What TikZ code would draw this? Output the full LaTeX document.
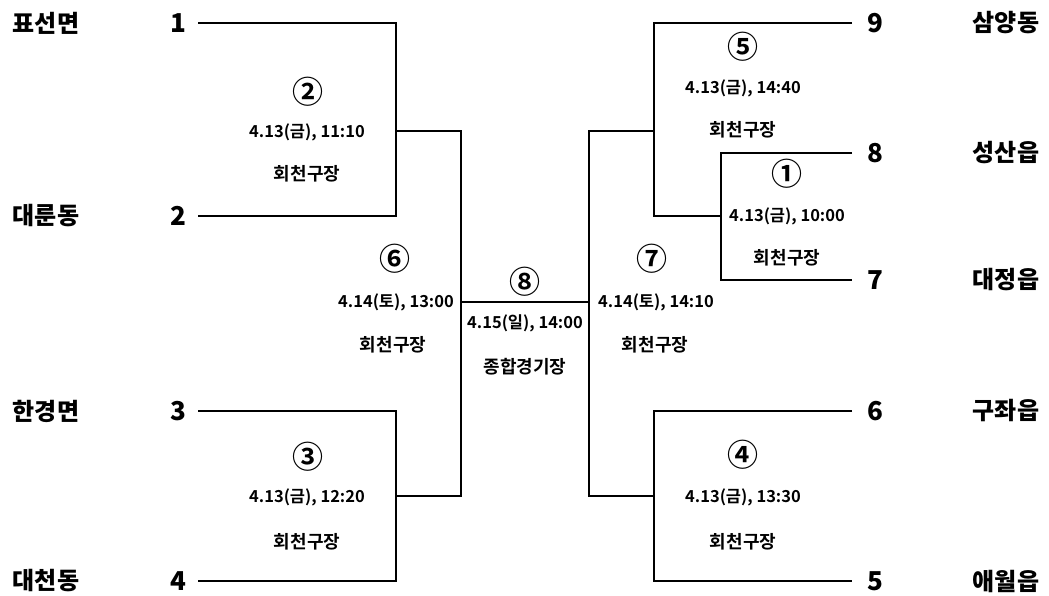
\documentclass[tikz,border=0pt]{standalone}
\usepackage{fontspec}
\setmainfont{Noto Sans CJK KR}
\newfontfamily\heavyfont{Noto Sans CJK KR Black}
\newfontfamily\boldkr{Noto Sans CJK KR Bold}
\begin{document}
\begin{tikzpicture}[x=1pt,y=-1pt,
  bline/.style={line width=2pt,line join=miter},
  team/.style={font=\heavyfont\fontsize{24}{24}\selectfont,inner sep=0pt,anchor=center},
  seed/.style={font=\heavyfont\fontsize{26}{26}\selectfont,inner sep=0pt,anchor=center},
  gno/.style={font=\boldkr\fontsize{31}{31}\selectfont,inner sep=0pt,anchor=center},
  gdate/.style={font=\boldkr\fontsize{16.5}{16.5}\selectfont,inner sep=0pt,anchor=center},
  gvenue/.style={font=\boldkr\fontsize{18}{18}\selectfont,inner sep=0pt,anchor=center}]
\useasboundingbox (0,0) rectangle (1049,595);
% team names
\node[team] (t1) at (46,23) {표선면};
\node[team] (t2) at (46,216) {대룬동};
\node[team] (t3) at (46,411) {한경면};
\node[team] (t4) at (46,581) {대천동};
\node[team] (t9) at (1006,23) {삼양동};
\node[team] (t8) at (1006,153) {성산읍};
\node[team] (t7) at (1006,280) {대정읍};
\node[team] (t6) at (1006,411) {구좌읍};
\node[team] (t5) at (1006,581) {애월읍};
% seed numbers
\node[seed] (n1) at (178,23) {1};
\node[seed] (n2) at (178,216) {2};
\node[seed] (n3) at (178,411) {3};
\node[seed] (n4) at (178,581) {4};
\node[seed] (n9) at (875,23) {9};
\node[seed] (n8) at (875,153) {8};
\node[seed] (n7) at (875,280) {7};
\node[seed] (n6) at (875,411) {6};
\node[seed] (n5) at (875,581) {5};
% line ends
\coordinate (s1) at (198,23);
\coordinate (s2) at (198,216);
\coordinate (s3) at (198,411);
\coordinate (s4) at (198,581);
\coordinate (s9) at (852,23);
\coordinate (s8) at (852,153);
\coordinate (s7) at (852,280);
\coordinate (s6) at (852,411);
\coordinate (s5) at (852,581);
% joints
\coordinate (m2) at (396,131);
\coordinate (m3) at (396,496);
\coordinate (m6) at (461,302);
\coordinate (m7) at (589,302);
\coordinate (m5) at (654,131);
\coordinate (m4) at (654,496);
\coordinate (m1) at (721,216);
% bracket
\draw[bline] (s1) -| (m2) |- (s2);
\draw[bline] (s3) -| (m3) |- (s4);
\draw[bline] (m2) -| (m6) |- (m3);
\draw[bline] (m6) -- (m7);
\draw[bline] (m5) -| (m7) |- (m4);
\draw[bline] (s9) -| (m5) |- (m1);
\draw[bline] (s8) -| (m1) |- (s7);
\draw[bline] (s6) -| (m4) |- (s5);
% game labels
\node[gno] (g2) at (308,92) {②};
\node[gdate] (d2) at (307,132) {4.13(금), 11:10};
\node[gvenue] (v2) at (307,174) {회천구장};
\node[gno] (g3) at (308,457) {③};
\node[gdate] (d3) at (307,497) {4.13(금), 12:20};
\node[gvenue] (v3) at (307,542) {회천구장};
\node[gno] (g6) at (395,259) {⑥};
\node[gdate] (d6) at (396,302) {4.14(토), 13:00};
\node[gvenue] (v6) at (393,345) {회천구장};
\node[gno] (g8) at (525,282) {⑧};
\node[gdate] (d8) at (525,323) {4.15(일), 14:00};
\node[gvenue] (v8) at (525,367) {종합경기장};
\node[gno] (g7) at (652,259) {⑦};
\node[gdate] (d7) at (656,302) {4.14(토), 14:10};
\node[gvenue] (v7) at (655,345) {회천구장};
\node[gno] (g5) at (743,47) {⑤};
\node[gdate] (d5) at (743,88) {4.13(금), 14:40};
\node[gvenue] (v5) at (743,130) {회천구장};
\node[gno] (g1) at (787,174) {①};
\node[gdate] (d1) at (787,216) {4.13(금), 10:00};
\node[gvenue] (v1) at (787,258) {회천구장};
\node[gno] (g4) at (743,455) {④};
\node[gdate] (d4) at (743,497) {4.13(금), 13:30};
\node[gvenue] (v4) at (743,542) {회천구장};
\end{tikzpicture}
\end{document}
